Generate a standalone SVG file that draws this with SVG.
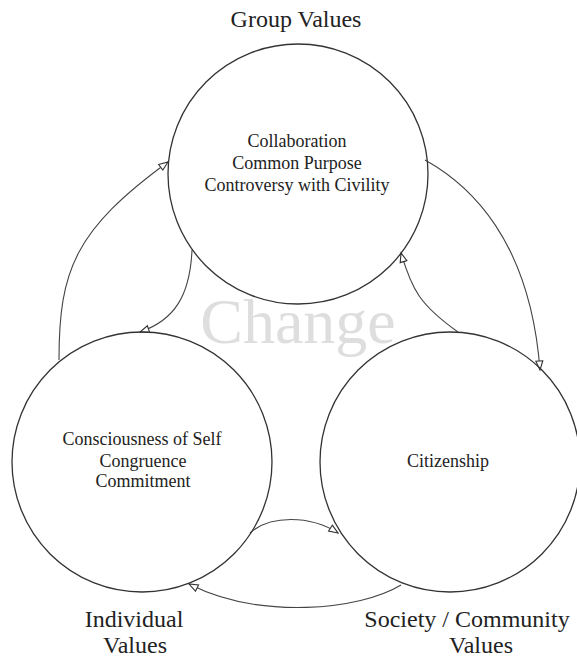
<svg xmlns="http://www.w3.org/2000/svg" width="577" height="658" viewBox="0 0 577 658">
<style>
.c{fill:none;stroke:#333;stroke-width:1.3}
.e{fill:none;stroke:#444;stroke-width:1.1}
.t{font-family:"Liberation Serif","Times New Roman",serif;fill:#222;text-anchor:middle}
.s{font-size:18px}
.l{font-size:24px}
.w{font-family:"Liberation Serif","Times New Roman",serif;font-size:64px;fill:#dedede;text-anchor:middle}
</style>
<defs>
<marker id="ah" markerUnits="userSpaceOnUse" markerWidth="12" markerHeight="12" viewBox="0 0 12 12" refX="10" refY="6" orient="auto">
<path d="M1,2.5 L10,6 L1,9.5 Z" fill="#fff" stroke="#333" stroke-width="1.1"/>
</marker>
</defs>
<rect width="577" height="658" fill="#fff"/>
<text class="w" x="298" y="343">Change</text>
<g id="connectors">
<path class="e" d="M59,360 C59,270 75,230 168,162" marker-end="url(#ah)"/>
<path class="e" d="M425,160 C470,185 530,240 540,370" marker-end="url(#ah)"/>
<path class="e" d="M458,332 C420,305 412,290 401,253" marker-end="url(#ah)"/>
<path class="e" d="M192,250 C190,295 175,320 140,332" marker-end="url(#ah)"/>
<path class="e" d="M250,533 C270,515 310,515 338,533" marker-end="url(#ah)"/>
<path class="e" d="M401,585 C360,610 260,620 189,584" marker-end="url(#ah)"/>
</g>
<g id="group">
<circle class="c" cx="298" cy="174" r="130"/>
<text class="t s" x="297" y="147">Collaboration</text>
<text class="t s" x="297" y="169">Common Purpose</text>
<text class="t s" x="297" y="191">Controversy with Civility</text>
</g>
<g id="individual">
<circle class="c" cx="142" cy="462" r="130"/>
<text class="t s" x="142" y="445">Consciousness of Self</text>
<text class="t s" x="143" y="467">Congruence</text>
<text class="t s" x="143" y="487">Commitment</text>
</g>
<g id="society">
<circle class="c" cx="450" cy="462" r="130"/>
<text class="t s" x="448" y="467">Citizenship</text>
</g>
<g id="labels">
<text class="t l" x="296" y="27">Group Values</text>
<text class="t l" x="134" y="627">Individual</text>
<text class="t l" x="135" y="653">Values</text>
<text class="t l" x="467" y="627">Society / Community</text>
<text class="t l" x="481" y="653">Values</text>
</g>
</svg>
